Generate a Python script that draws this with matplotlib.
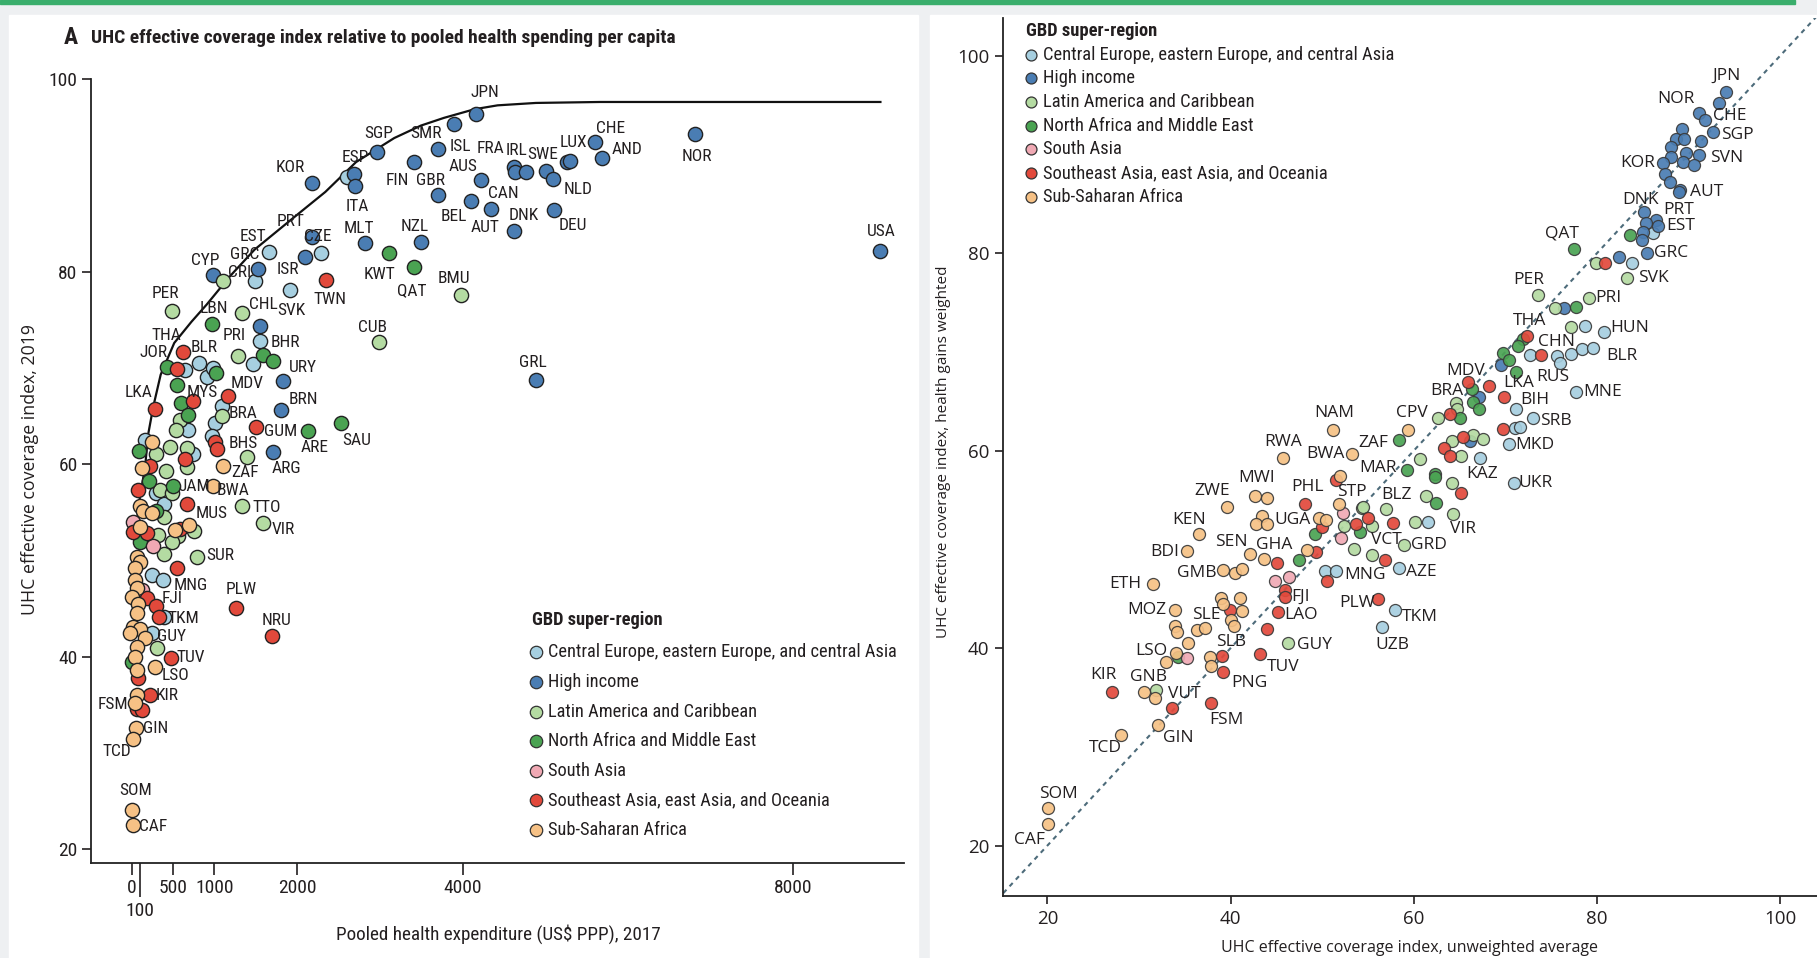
import matplotlib
matplotlib.use('Agg')
import matplotlib.pyplot as plt
from matplotlib import font_manager
from matplotlib.patches import Rectangle

## fonts: condensed face for panel A and the keys, wide face for panel B
names = {f.name for f in font_manager.fontManager.ttflist}
NARROW = 'Liberation Sans'
for cand in ['Roboto Condensed', 'Liberation Sans Narrow', 'Archivo Narrow', 'Asap Condensed']:
    if cand in names:
        NARROW = cand
        break
WIDE = 'Open Sans'
plt.rcParams['font.family'] = [NARROW, 'DejaVu Sans']

REGIONS = ['Central Europe, eastern Europe, and central Asia', 'High income',
           'Latin America and Caribbean', 'North Africa and Middle East',
           'South Asia', 'Southeast Asia, east Asia, and Oceania', 'Sub-Saharan Africa']
COLORS = ['#a6cfe0', '#4a7db3', '#b4dba2', '#4aa352', '#f0a9b4', '#e2493b', '#f6c185']

## ---------------- panel A: pooled spending (US$) vs UHC index ----------------
a_cee = [(2599, 89.9), (2288, 82.0), (1661, 82.1), (1494, 79.05), (1911, 78.1), (1554, 72.8),
         (1471, 70.4), (814, 70.5), (647, 69.8), (907, 69.1), (985, 70.0), (1088, 66.0),
         (1008, 64.3), (675, 63.5), (967, 62.9), (161, 62.5), (746, 61.1), (294, 57.0),
         (391, 55.9), (242, 48.5), (383, 47.95), (391, 44.15), (242, 42.4)]
a_hi = [(4167, 96.4), (3900, 95.4), (3708, 92.8), (2967, 92.5), (2690, 90.2), (2704, 88.96),
        (3412, 91.4), (3708, 87.95), (4229, 89.5), (4100, 87.4), (4344, 86.5), (4617, 84.2),
        (5109, 86.4), (4617, 90.9), (4631, 90.4), (4765, 90.4), (5009, 90.5), (5095, 89.6),
        (5267, 91.45), (5300, 91.5), (5597, 93.5), (5683, 91.8), (6816, 94.3), (9053, 82.2),
        (4894, 68.8), (2824, 83.0), (3503, 83.07), (2091, 81.5), (2185, 89.2), (2185, 83.65),
        (1531, 80.3), (981, 79.7), (1554, 74.4), (1832, 68.6), (1809, 65.6), (1705, 61.3)]
a_lac = [(3986, 77.6), (2991, 72.7), (1101, 79.05), (1332, 75.7), (490, 75.9), (1291, 71.25),
         (584, 64.6), (536, 63.5), (1088, 65.0), (1390, 60.7), (463, 61.8), (290, 61.1),
         (665, 61.65), (665, 59.7), (415, 59.3), (342, 57.3), (492, 57.0), (1330, 55.7),
         (1584, 53.85), (322, 52.6), (391, 54.5), (754, 53.1), (564, 52.5), (484, 51.9),
         (391, 50.7), (786, 50.4), (302, 40.9)]
a_name = [(3111, 81.9), (3412, 80.5), (2532, 64.3), (2131, 63.45), (976, 74.6), (1582, 71.35),
          (1703, 70.7), (430, 70.1), (1022, 69.45), (552, 68.2), (592, 66.4), (677, 65.1),
          (89, 61.4), (210, 58.2), (504, 57.7), (294, 55.1), (101, 51.9), (0, 39.4)]
a_sa = [(20, 54.0), (254, 51.5), (121, 46.9)]
a_sea = [(2346, 79.15), (620, 71.7), (550, 69.9), (1169, 67.1), (746, 66.6), (282, 65.7),
         (1503, 63.9), (1008, 62.3), (1028, 61.6), (645, 60.5), (222, 59.8), (81, 57.3),
         (673, 55.9), (181, 52.8), (20, 52.9), (584, 53.3), (544, 49.2), (181, 46.1),
         (294, 45.3), (334, 44.15), (476, 39.8), (80, 37.75), (222, 36.0), (60, 34.5),
         (121, 34.45), (1257, 45.1), (1701, 42.1)]
a_ssa = [(1108, 59.8), (987, 57.7), (242, 62.3), (121, 59.6), (101, 55.6), (141, 55.1),
         (242, 54.9), (101, 53.5), (524, 53.2), (697, 53.7), (60, 50.4), (101, 49.8),
         (40, 49.2), (40, 48.0), (60, 47.1), (0, 46.2), (80, 45.5), (60, 44.5), (20, 43.1),
         (101, 42.9), (-20, 42.4), (161, 41.9), (60, 41.0), (40, 40.0), (282, 38.9),
         (60, 38.6), (60, 36.0), (40, 35.2), (48, 32.55), (20, 31.4), (0, 24.1), (12, 22.5)]
a_points = [a_cee, a_hi, a_lac, a_name, a_sa, a_sea, a_ssa]

frontier_x = [30, 60, 100, 161, 201, 261, 350, 514, 722, 907, 1184, 1485, 1925, 2341, 2712,
              3174, 3498, 3776, 4146, 4424, 4887, 5664, 9053]
frontier_y = [52.0, 53.9, 56.6, 59.7, 63.2, 66.0, 69.3, 72.6, 74.8, 76.6, 79.5, 82.3, 85.4,
              88.3, 91.4, 93.9, 95.2, 96.0, 96.9, 97.3, 97.55, 97.65, 97.65]

a_labels = [('JPN', 4265, 98.6), ('SMR', 3555, 94.4), ('ISL', 3971, 93.0), ('FRA', 4339, 92.8),
            ('IRL', 4655, 92.6), ('SWE', 4975, 92.2), ('LUX', 5343, 93.4), ('CHE', 5788, 94.9),
            ('AND', 5994, 92.7), ('NOR', 6830, 92.0), ('SGP', 2982, 94.4), ('ESP', 2704, 91.9),
            ('ITA', 2728, 86.8), ('FIN', 3206, 89.5), ('GBR', 3613, 89.5), ('AUS', 4010, 90.9),
            ('CAN', 4497, 88.1), ('NLD', 5396, 88.6), ('BEL', 3890, 85.7), ('AUT', 4268, 84.6),
            ('DNK', 4746, 85.9), ('DEU', 5334, 84.8), ('MLT', 2752, 84.5), ('NZL', 3422, 84.7),
            ('CZE', 2250, 83.65), ('KWT', 2991, 79.7), ('QAT', 3388, 78.0), ('BMU', 3890, 79.3),
            ('TWN', 2394, 77.1), ('CUB', 2910, 74.2), ('GRL', 4856, 70.6), ('USA', 9063, 84.2),
            ('SAU', 2719, 62.5), ('ARE', 2217, 61.7), ('KOR', 1911, 90.8), ('PRT', 1925, 85.2),
            ('EST', 1471, 83.65), ('GRC', 1370, 81.75), ('CRI', 1309, 79.9), ('CYP', 884, 81.2),
            ('ISR', 1888, 80.2), ('SVK', 1934, 76.0), ('CHL', 1587, 76.6), ('PER', 407, 77.76),
            ('LBN', 990, 76.2), ('BHR', 1856, 72.6), ('PRI', 1240, 73.4), ('THA', 421, 73.4),
            ('JOR', 259, 71.6), ('BLR', 870, 72.15), ('MDV', 1393, 68.4), ('MYS', 851, 67.4),
            ('LKA', 83, 67.4), ('URY', 2064, 70.0), ('BRN', 2073, 66.7), ('BRA', 1350, 65.3),
            ('GUM', 1797, 63.4), ('BHS', 1351, 62.2), ('ARG', 1865, 59.5), ('ZAF', 1375, 59.1),
            ('JAM', 760, 57.65), ('BWA', 1220, 57.3), ('MUS', 967, 54.9), ('TTO', 1632, 55.5),
            ('VIR', 1834, 53.2), ('SUR', 1068, 50.5), ('MNG', 718, 47.4), ('FJI', 484, 46.0),
            ('TKM', 625, 44.0), ('GUY', 484, 42.1), ('TUV', 718, 39.9), ('LSO', 524, 38.0),
            ('KIR', 431, 36.0), ('FSM', -222, 35.0), ('GIN', 294, 32.55), ('TCD', -182, 30.1),
            ('SOM', 52, 26.1), ('CAF', 262, 22.3), ('PLW', 1322, 47.0), ('NRU', 1745, 43.8)]

a_xticks = [0, 500, 1000, 2000, 4000, 8000]
a_yticks = [20, 40, 60, 80, 100]

## ---------------- panel B: unweighted vs health-gains weighted ----------------
b_cee = [(86.1, 82.0), (83.8, 78.95), (78.7, 72.6), (80.7, 72.0), (72.7, 69.66), (75.6, 69.6),
         (75.9, 68.9), (77.2, 69.8), (78.4, 70.3), (79.6, 70.4), (77.7, 65.95), (71.1, 64.2),
         (73.0, 63.25), (71.0, 62.3), (71.6, 62.4), (70.4, 60.65), (67.2, 59.2), (70.95, 56.74),
         (61.5, 52.8), (58.4, 48.08), (50.3, 47.84), (51.5, 47.84), (57.9, 43.9), (56.5, 42.1)]
b_hi = [(94.1, 96.3), (93.3, 95.2), (91.1, 94.2), (91.8, 93.45), (92.7, 92.3), (89.3, 92.6),
        (88.6, 91.6), (89.5, 91.6), (91.3, 91.3), (88.1, 90.75), (89.7, 90.1), (91.1, 89.9),
        (88.1, 89.7), (89.4, 89.2), (90.6, 88.9), (87.2, 89.1), (87.4, 88.05), (88.0, 87.2),
        (89.1, 86.4), (88.9, 86.2), (85.1, 84.2), (86.4, 83.3), (85.3, 83.06), (86.6, 82.7),
        (85.0, 82.15), (84.9, 81.3), (85.5, 80.0), (82.4, 79.6), (76.4, 74.4), (69.5, 68.65),
        (67.1, 65.4), (66.1, 61.0)]
b_lac = [(79.9, 78.95), (83.3, 77.5), (73.6, 75.8), (79.1, 75.5), (75.4, 74.4), (77.2, 72.5),
         (64.6, 64.8), (64.7, 64.26), (62.6, 63.25), (64.2, 61.0), (66.5, 61.6), (67.6, 61.2),
         (65.1, 59.5), (60.7, 59.1), (64.2, 56.7), (61.3, 55.4), (64.3, 53.6), (57.0, 54.1),
         (54.3, 54.2), (60.1, 52.8), (54.4, 54.25), (52.4, 52.4), (55.4, 52.4), (53.5, 50.0),
         (55.4, 49.4), (58.9, 50.4), (46.3, 40.5), (31.85, 35.8)]
b_name = [(83.6, 81.8), (77.5, 80.4), (77.7, 74.5), (71.9, 71.25), (71.4, 70.6), (69.7, 69.9),
          (70.4, 69.2), (71.2, 68.0), (66.3, 66.2), (66.5, 64.9), (67.1, 64.2), (65.0, 63.25),
          (58.4, 61.1), (59.2, 58.0), (62.3, 57.6), (62.3, 57.3), (62.4, 54.65), (49.2, 51.6),
          (54.1, 51.8), (47.5, 48.9), (34.3, 39.07)]
b_sa = [(52.3, 53.7), (52.0, 51.2), (44.8, 46.8), (46.4, 47.17), (35.2, 39.0)]
b_sea = [(80.9, 78.95), (72.4, 71.6), (73.9, 69.66), (65.9, 66.9), (68.2, 66.5), (69.8, 65.4),
         (63.9, 63.7), (69.75, 62.14), (65.4, 61.4), (63.3, 60.3), (64.0, 59.5), (65.1, 55.7),
         (57.7, 52.7), (51.5, 57.0), (48.1, 54.56), (53.7, 52.6), (55.0, 53.2), (50.0, 52.3),
         (49.3, 49.7), (45.1, 48.65), (56.8, 48.9), (50.5, 46.8), (45.9, 45.9), (45.9, 45.2),
         (45.2, 43.7), (56.1, 44.94), (44.0, 41.9), (39.9, 43.86), (39.1, 39.2), (43.2, 39.4),
         (39.2, 37.6), (27.1, 35.6), (33.6, 33.9), (37.85, 34.4)]
b_ssa = [(59.4, 62.07), (51.2, 62.07), (53.2, 59.64), (45.7, 59.3), (42.7, 55.4), (44.0, 55.2),
         (39.6, 54.3), (51.9, 57.4), (51.85, 54.6), (43.4, 53.4), (42.8, 52.6), (44.0, 52.6),
         (49.6, 53.2), (50.4, 52.97), (36.5, 51.55), (35.2, 49.8), (42.1, 49.5), (43.6, 49.0),
         (48.3, 49.9), (39.2, 47.9), (40.5, 47.57), (41.3, 47.97), (31.5, 46.5), (33.9, 43.86),
         (39.0, 45.1), (41.0, 45.1), (39.2, 44.5), (41.2, 43.8), (40.1, 42.8), (40.4, 42.2),
         (33.9, 42.2), (34.2, 41.6), (36.3, 41.8), (37.2, 42.0), (35.3, 40.55), (37.7, 39.1),
         (37.85, 38.2), (34.0, 39.5), (33.0, 38.6), (30.6, 35.6), (31.7, 34.9), (32.1, 32.2),
         (28.0, 31.2), (20.1, 23.8), (20.1, 22.2)]
b_points = [b_cee, b_hi, b_lac, b_name, b_sa, b_sea, b_ssa]

b_labels = [('JPN', 94.1, 97.9), ('NOR', 88.6, 95.6), ('CHE', 94.5, 93.9), ('SGP', 95.3, 92.0),
            ('SVN', 94.1, 89.6), ('KOR', 84.4, 89.1), ('AUT', 92.0, 86.2), ('DNK', 84.7, 85.4),
            ('PRT', 88.9, 84.4), ('EST', 89.1, 82.7), ('GRC', 88.1, 80.0), ('QAT', 76.2, 82.0),
            ('SVK', 86.1, 77.5), ('PER', 72.5, 77.3), ('PRI', 81.2, 75.5), ('HUN', 83.6, 72.46),
            ('THA', 72.6, 73.1), ('CHN', 75.6, 71.0), ('BLR', 82.7, 69.6), ('RUS', 75.2, 67.5),
            ('MNE', 80.6, 65.95), ('MDV', 65.6, 68.1), ('LKA', 71.4, 66.8), ('BIH', 73.2, 65.1),
            ('BRA', 63.6, 66.0), ('CPV', 59.75, 63.76), ('SRB', 75.5, 63.0), ('MKD', 73.2, 60.55),
            ('ZAF', 55.6, 60.8), ('NAM', 51.3, 63.76), ('BWA', 50.3, 59.64), ('KAZ', 67.5, 57.6),
            ('MAR', 56.1, 58.2), ('UKR', 73.3, 56.74), ('VIR', 65.4, 52.1), ('BLZ', 58.1, 55.5),
            ('STP', 53.2, 55.8), ('PHL', 48.4, 56.3), ('RWA', 45.7, 60.9), ('MWI', 42.8, 57.2),
            ('ZWE', 38.0, 55.9), ('UGA', 46.8, 52.97), ('KEN', 35.5, 52.97), ('BDI', 32.8, 49.7),
            ('SEN', 40.1, 50.7), ('GHA', 44.8, 50.4), ('GMB', 36.3, 47.6), ('VCT', 57.0, 50.9),
            ('GRD', 61.6, 50.4), ('AZE', 60.8, 47.7), ('MNG', 54.65, 47.4), ('ETH', 28.5, 46.5),
            ('FJI', 47.6, 45.2), ('LAO', 47.7, 43.35), ('PLW', 53.85, 44.6), ('TKM', 60.7, 43.2),
            ('UZB', 57.7, 40.3), ('MOZ', 30.8, 43.86), ('SLE', 37.4, 43.35), ('GUY', 49.2, 40.3),
            ('SLB', 40.1, 40.6), ('TUV', 45.7, 38.06), ('LSO', 31.3, 39.74), ('PNG', 42.1, 36.5),
            ('KIR', 26.1, 37.3), ('GNB', 31.1, 37.1), ('VUT', 35.0, 35.4), ('FSM', 39.6, 32.7),
            ('GIN', 34.3, 30.87), ('TCD', 26.3, 29.86), ('SOM', 21.2, 25.2), ('CAF', 18.0, 20.6)]

b_ticks = [20, 40, 60, 80, 100]

INK = '#231f20'

fig = plt.figure(figsize=(18.17, 9.58), dpi=100, facecolor='#eef0f2')

# page furniture: green rule and the two white panels
fig.patches.append(Rectangle((0, 0.9958), 0.988, 0.0042, transform=fig.transFigure,
                             color='#3aae6c', zorder=-5))
fig.patches.append(Rectangle((0.005, 0), 0.5, 0.984, transform=fig.transFigure,
                             color='white', zorder=-5))
fig.patches.append(Rectangle((0.512, 0), 0.488, 0.984, transform=fig.transFigure,
                             color='white', zorder=-5))


def draw_key(ax, x0, y0, dy, msize, fsize, title_gap):
    ax.text(x0 - 0.006, y0 + title_gap, 'GBD super-region', transform=ax.transAxes,
            fontsize=fsize, fontweight='bold', color=INK, va='center', ha='left')
    for i, (name, col) in enumerate(zip(REGIONS, COLORS)):
        y = y0 - i * dy
        ax.scatter([x0], [y], s=msize, color=col, edgecolor='#333333', linewidth=0.9,
                   transform=ax.transAxes, clip_on=False, zorder=5)
        ax.text(x0 + 0.0145, y, name, transform=ax.transAxes, fontsize=fsize, color=INK,
                va='center', ha='left')


# ---- panel A ----
axA = fig.add_axes([0.04992, 0.09875, 0.4476, 0.8184])
axA.set_facecolor('white')
axA.set_xlim(-496, 9338)
axA.set_ylim(18.5, 100)
axA.plot(frontier_x, frontier_y, color='#111111', lw=1.6, zorder=1)
for pts, col in zip(a_points, COLORS):
    axA.scatter([p[0] for p in pts], [p[1] for p in pts], s=105, color=col,
                edgecolor='#222222', linewidth=1.0, zorder=3)
for code, x, y in a_labels:
    axA.text(x, y, code, fontsize=12.5, color=INK, ha='center', va='center',
             zorder=4, clip_on=False)

for s in ['top', 'right']:
    axA.spines[s].set_visible(False)
for s in ['left', 'bottom']:
    axA.spines[s].set_linewidth(1.3)
    axA.spines[s].set_color('#222222')
axA.set_xticks(a_xticks)
axA.set_xticklabels([str(v) for v in a_xticks])
axA.set_xticks([100], minor=True)
axA.set_xticklabels(['100'], minor=True)
axA.set_yticks(a_yticks)
axA.tick_params(axis='x', which='major', length=8.4, width=1.2, labelsize=14, pad=3,
                colors=INK)
axA.tick_params(axis='x', which='minor', length=24.5, width=1.2, labelsize=14, pad=3,
                colors=INK)
axA.tick_params(axis='y', length=6.5, width=1.2, labelsize=14, pad=3, colors=INK)
axA.set_ylabel('UHC effective coverage index, 2019', fontsize=12.8, color=INK,
               family=[WIDE, 'DejaVu Sans'])
axA.yaxis.set_label_coords(-0.064, 0.502)
axA.set_xlabel('Pooled health expenditure (US$ PPP), 2017', fontsize=13.8, color=INK)
axA.xaxis.set_label_coords(0.5008, -0.0773)
draw_key(axA, 0.5481, 0.2691, 0.0377, 80, 13.2, 0.041)

fig.text(64 / 1817, 1 - 38 / 958, 'A', fontsize=17, fontweight='bold', color=INK,
         va='center', ha='left')
fig.text(91 / 1817, 1 - 38 / 958,
         'UHC effective coverage index relative to pooled health spending per capita',
         fontsize=14, fontweight='bold', color=INK, va='center', ha='left')

# ---- panel B ----
axB = fig.add_axes([0.5522, 0.0647, 0.4478, 0.9165])
axB.set_facecolor('white')
axB.set_xlim(15.2, 104.0)
axB.set_ylim(14.9, 103.8)
axB.plot([15.2, 104.0], [15.2, 104.0], color='#4d6b7a', lw=1.5,
         linestyle=(0, (2.2, 2.2)), zorder=1)
for pts, col in zip(b_points, COLORS):
    axB.scatter([p[0] for p in pts], [p[1] for p in pts], s=75, color=col,
                edgecolor='#3a3a3a', linewidth=0.9, alpha=0.92, zorder=3)
for code, x, y in b_labels:
    axB.text(x, y, code, fontsize=12.5, color=INK, ha='center', va='center', zorder=4,
             family=[WIDE, 'DejaVu Sans'], clip_on=False)

for s in ['top', 'right']:
    axB.spines[s].set_visible(False)
for s in ['left', 'bottom']:
    axB.spines[s].set_linewidth(1.3)
    axB.spines[s].set_color('#222222')
axB.set_xticks(b_ticks)
axB.set_yticks(b_ticks)
axB.tick_params(axis='both', length=6, width=1.2, labelsize=13.5, pad=4, colors=INK)
for lab in axB.get_xticklabels() + axB.get_yticklabels():
    lab.set_family([WIDE, 'DejaVu Sans'])
axB.set_xlabel('UHC effective coverage index, unweighted average', fontsize=11.5,
               color=INK, family=[WIDE, 'DejaVu Sans'])
axB.xaxis.set_label_coords(0.4986, -0.0501)
axB.set_ylabel('UHC effective coverage index, health gains weighted', fontsize=11,
               color=INK, family=[WIDE, 'DejaVu Sans'])
axB.yaxis.set_label_coords(-0.064, 0.5057)
draw_key(axB, 0.0344, 0.9584, 0.02696, 62, 13.3, 0.027)

fig.savefig('out.png', dpi=100, facecolor=fig.get_facecolor())
